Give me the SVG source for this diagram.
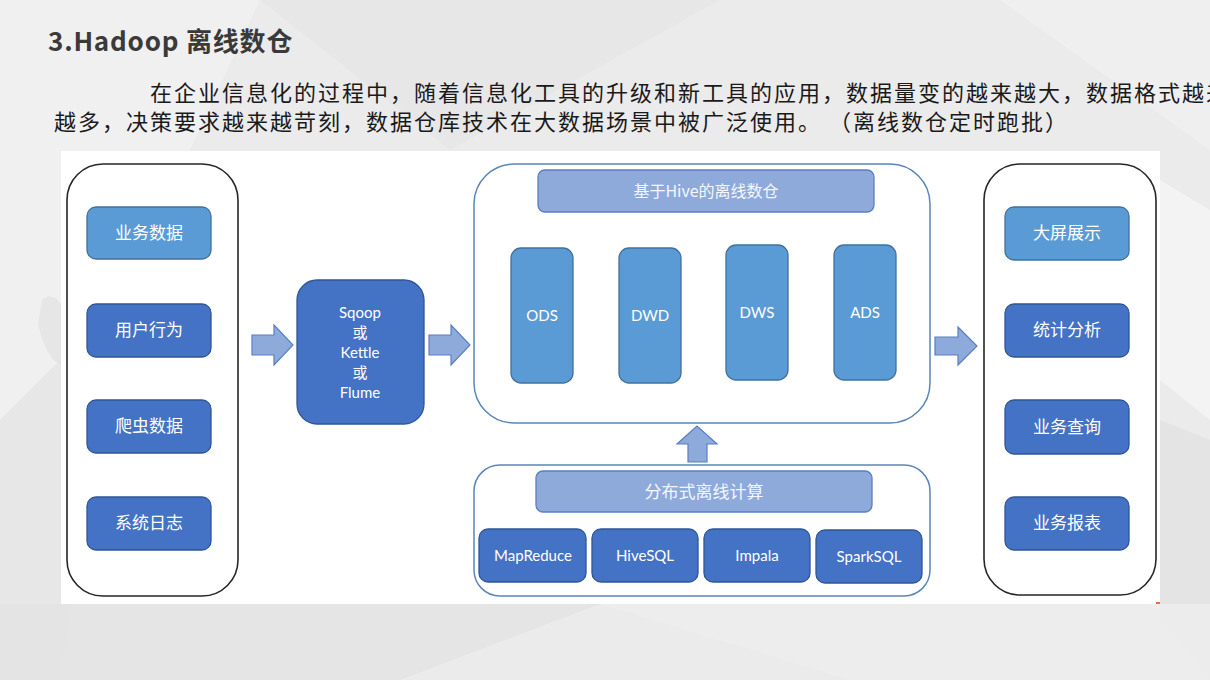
<svg xmlns="http://www.w3.org/2000/svg" width="1210" height="680" viewBox="0 0 1210 680">
<defs>
<style>
.title{font-family:"Noto Sans CJK SC","Noto Sans",sans-serif;font-weight:bold;font-size:26px;fill:#3a3a3a;letter-spacing:0.8px}
.para{font-family:"Noto Sans CJK SC",sans-serif;font-size:22px;fill:#1a1a1a;letter-spacing:2px}
.outer{fill:#ffffff;stroke:#262626;stroke-width:1.6}
.mid{fill:#ffffff;stroke:#5a86b8;stroke-width:1.5}
.dark{fill:#4472c4;stroke:#2f5597;stroke-width:1.3}
.light{fill:#5b9bd5;stroke:#41719c;stroke-width:1.3}
.hdr{fill:#8eaadb;stroke:#5a7fbf;stroke-width:1.3}
.arrow{fill:#8eaadb;stroke:#5a7fbf;stroke-width:1.2}
.cn{font-family:"Noto Sans CJK SC",sans-serif;font-size:17px;fill:#ffffff;text-anchor:middle}
.en{font-family:Lato,"Open Sans","Noto Sans CJK SC",sans-serif;font-size:15px;fill:#ffffff;text-anchor:middle}
.htxt{font-family:"Noto Sans CJK SC",Lato,sans-serif;font-size:16px;fill:#f4f7fc;text-anchor:middle}
</style>
</defs>
<!-- background -->
<rect x="0" y="0" width="1210" height="680" fill="#ebebec"/>
<polygon points="0,0 260,0 120,300 0,420" fill="#f1f1f2" opacity="0.8"/>
<polygon points="260,0 720,0 450,150" fill="#e6e6e7" opacity="0.7"/>
<polygon points="720,0 1000,0 1210,150 1210,0" fill="#f0f0f1" opacity="0.8"/>
<polygon points="0,420 120,300 60,680 0,680" fill="#e5e5e6" opacity="0.7"/>
<polygon points="1160,180 1210,210 1210,420 1160,380" fill="#f3f3f4"/>
<polygon points="1160,420 1210,440 1210,680 1160,620" fill="#e4e4e5"/>
<polygon points="0,604 600,604 400,680 0,680" fill="#e4e4e5" opacity="0.8"/>
<polygon points="600,604 1210,604 1210,680 850,680" fill="#eeeeef" opacity="0.8"/>
<path d="M42,300 l6,-4 l8,2 l5,6 l0,60 l-8,-4 l-6,-10 l-6,-14 l-3,-12 z" fill="#e0e0e1" opacity="0.6"/>
<text class="title" x="48" y="51">3.Hadoop 离线数仓</text>
<text class="para" x="150" y="101">在企业信息化的过程中，随着信息化工具的升级和新工具的应用，数据量变的越来越大，数据格式越来</text>
<text class="para" x="54" y="130">越多，决策要求越来越苛刻，数据仓库技术在大数据场景中被广泛使用。 （离线数仓定时跑批）</text>
<!-- white panel -->
<rect x="61" y="151" width="1099" height="453" fill="#ffffff"/>
<rect x="1156" y="602" width="4" height="2" fill="#e8703a"/>

<!-- connectors -->
<g id="connectors">
<polygon class="arrow" points="252,335 274,335 274,325 293,345 274,365 274,355 252,355"/>
<polygon class="arrow" points="429,335 451,335 451,325 470,345 451,365 451,355 429,355"/>
<polygon class="arrow" points="935,337 958,337 958,327 977,346 958,365 958,355 935,355"/>
<polygon class="arrow" points="688,462 688,444 677,444 697,426 717,444 707,444 707,462"/>
</g>

<g id="sources">
<rect class="outer" x="67" y="164" width="171" height="432" rx="36"/>
<g id="n-yewushuju"><rect class="light" x="87" y="207" width="124" height="52" rx="9"/><text class="cn" x="149" y="239">业务数据</text></g>
<g id="n-yonghuxingwei"><rect class="dark" x="87" y="304" width="124" height="53" rx="9"/><text class="cn" x="149" y="336">用户行为</text></g>
<g id="n-pachong"><rect class="dark" x="87" y="400" width="124" height="53" rx="9"/><text class="cn" x="149" y="432">爬虫数据</text></g>
<g id="n-rizhi"><rect class="dark" x="87" y="497" width="124" height="53" rx="9"/><text class="cn" x="149" y="529">系统日志</text></g>
</g>

<g id="n-sqoop">
<rect class="dark" x="297" y="280" width="127" height="144" rx="20"/>
<text class="en" x="360" y="318">Sqoop</text>
<text class="en" x="360" y="338">或</text>
<text class="en" x="360" y="358">Kettle</text>
<text class="en" x="360" y="378">或</text>
<text class="en" x="360" y="398">Flume</text>
</g>

<g id="warehouse">
<rect class="mid" x="474" y="164" width="456" height="259" rx="40"/>
<g id="n-hive"><rect class="hdr" x="538" y="170" width="336" height="42" rx="7"/><text class="htxt" x="706" y="197">基于Hive的离线数仓</text></g>
<g id="n-ods"><rect class="light" x="511" y="248" width="62" height="135" rx="10"/><text class="en" x="542" y="321">ODS</text></g>
<g id="n-dwd"><rect class="light" x="619" y="248" width="62" height="135" rx="10"/><text class="en" x="650" y="321">DWD</text></g>
<g id="n-dws"><rect class="light" x="726" y="245" width="62" height="135" rx="10"/><text class="en" x="757" y="318">DWS</text></g>
<g id="n-ads"><rect class="light" x="834" y="245" width="62" height="135" rx="10"/><text class="en" x="865" y="318">ADS</text></g>
</g>

<g id="compute">
<rect class="mid" x="474" y="465" width="456" height="131" rx="26"/>
<g id="n-fenbushi"><rect class="hdr" x="536" y="471" width="336" height="41" rx="7"/><text class="htxt" x="704" y="498" style="font-size:17px">分布式离线计算</text></g>
<g id="n-mapreduce"><rect class="dark" x="479" y="529" width="107" height="53" rx="9"/><text class="en" x="533" y="561">MapReduce</text></g>
<g id="n-hivesql"><rect class="dark" x="592" y="529" width="106" height="53" rx="9"/><text class="en" x="645" y="561">HiveSQL</text></g>
<g id="n-impala"><rect class="dark" x="704" y="529" width="106" height="53" rx="9"/><text class="en" x="757" y="561">Impala</text></g>
<g id="n-sparksql"><rect class="dark" x="816" y="530" width="106" height="53" rx="9"/><text class="en" x="869" y="562">SparkSQL</text></g>
</g>

<g id="apps">
<rect class="outer" x="984" y="164" width="172" height="431" rx="36"/>
<g id="n-dapin"><rect class="light" x="1005" y="207" width="124" height="53" rx="9"/><text class="cn" x="1067" y="239">大屏展示</text></g>
<g id="n-tongji"><rect class="dark" x="1005" y="304" width="124" height="53" rx="9"/><text class="cn" x="1067" y="336">统计分析</text></g>
<g id="n-chaxun"><rect class="dark" x="1005" y="400" width="124" height="54" rx="9"/><text class="cn" x="1067" y="433">业务查询</text></g>
<g id="n-baobiao"><rect class="dark" x="1005" y="497" width="124" height="53" rx="9"/><text class="cn" x="1067" y="529">业务报表</text></g>
</g>
</svg>
